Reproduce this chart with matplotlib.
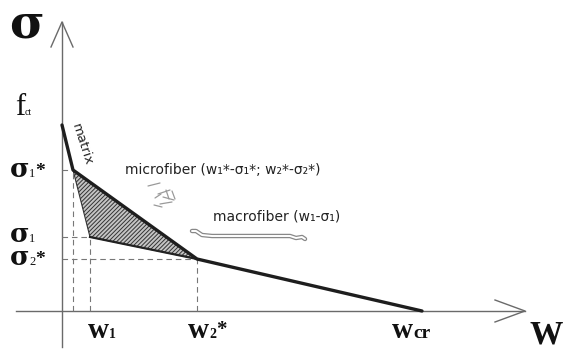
import matplotlib
matplotlib.use("Agg")
import matplotlib.pyplot as plt
from matplotlib.patches import Polygon

# Crack-opening (w) vs. stress (sigma) softening law, arbitrary units
w_curve = [0, 11, 135, 360]          # fct -> (w1*, s1*) -> (w2*, s2*) -> wcr
s_curve = [186, 141, 52, 0]
w1_star, s1_star = 11, 141
w2_star, s2_star = 135, 52
w1, s1 = 28, 74
wcr = 360

plt.rcParams["hatch.linewidth"] = 0.7
plt.rcParams["hatch.color"] = "#4a4a4a"

fig = plt.figure(figsize=(5.66, 3.55), dpi=100)
ax = fig.add_axes([0, 0, 1, 1])
ax.set_xlim(-62, 504)
ax.set_ylim(-44, 311)
ax.axis("off")

axis_col = "#6a6a6a"
# axes with open arrowheads
ax.plot([0, 0], [-36, 289], color=axis_col, lw=1.0)
ax.plot([-11, 0, 11], [264, 289, 264], color=axis_col, lw=1.0)
ax.plot([-46, 463], [0, 0], color=axis_col, lw=1.0)
ax.plot([433, 463, 433], [11, 0, -11], color=axis_col, lw=1.0)

# dashed reference lines
dash = dict(color="#777777", lw=0.8, ls=(0, (5, 3.5)))
for wx, sy in [(w1_star, s1_star), (w1, s1), (w2_star, s2_star)]:
    ax.plot([0, wx], [sy, sy], **dash)
    ax.plot([wx, wx], [0, sy], **dash)

# hatched area between micro- and macro-fiber branches
poly = Polygon([(w1_star, s1_star), (w1, s1), (w2_star, s2_star)], closed=True,
               facecolor="#c4c4c4", edgecolor="#333333", hatch="////////", lw=0.8)
ax.add_patch(poly)
ax.plot([w1, w2_star], [s1, s2_star], color="#222222", lw=1.6)

# main softening curve
ax.plot(w_curve, s_curve, color="#1e1e1e", lw=2.4, solid_capstyle="round",
        solid_joinstyle="round")

greek_b = dict(family="DejaVu Serif", weight="bold", color="#111111")
serif_b = dict(family="Liberation Serif", weight="bold", color="#111111")
serif = dict(family="Liberation Serif", color="#111111")

ax.text(-53, 274, "σ", fontsize=34, ha="left", va="baseline", **greek_b)
ax.text(-47, 196, "f", fontsize=22, ha="left", va="baseline", **serif)
ax.text(-37, 196, "ct", fontsize=7, ha="left", va="baseline", **serif)

def sig_label(y, sub, star):
    ax.text(-52, y, "σ", fontsize=19, ha="left", va="baseline", **greek_b)
    ax.text(-33, y, sub, fontsize=9, ha="left", va="baseline", **serif)
    if star:
        ax.text(-27, y + 1, "*", fontsize=14, ha="left", va="baseline", **serif_b)

sig_label(134, "1", True)
sig_label(69, "1", False)
sig_label(46, "2", True)

def w_label(x, sub, star, subsize=10):
    ax.text(x, -27, "w", fontsize=21, ha="left", va="baseline", **serif_b)
    ax.text(x + 21, -27, sub, fontsize=subsize, ha="left", va="baseline", **serif_b)
    if star:
        ax.text(x + 28, -24, "*", fontsize=15, ha="left", va="baseline", **serif_b)

w_label(26, "1", False)
w_label(126, "2", True)
w_label(330, "cr", False, subsize=14)
ax.text(468, -33, "W", fontsize=24, ha="left", va="baseline", **serif_b)

sans = dict(family="DejaVu Sans", color="#222222")
ax.text(20, 166, "matrix", fontsize=9.5, rotation=-72, ha="center", va="center",
        rotation_mode="anchor", **sans)
ax.text(63, 137, "microfiber (w₁*-σ₁*; w₂*-σ₂*)", fontsize=10, ha="left",
        va="baseline", **sans)
ax.text(151, 91, "macrofiber (w₁-σ₁)", fontsize=10, ha="left", va="baseline", **sans)

# sketch of short microfibers
fib = dict(color="#9a9a9a", lw=0.9, solid_capstyle="round")
for seg in [([86, 98], [125, 128]), ([96, 108], [117, 121]), ([93, 99], [113, 117]),
            ([104, 107], [121, 112]), ([110, 113], [120, 112]), ([101, 112], [114, 111]),
            ([98, 110], [107, 109]), ([92, 100], [106, 104])]:
    ax.plot(seg[0], seg[1], **fib)

# sketch of a hooked-end macrofiber (outlined)
mx = [130, 134, 140, 150, 228, 234, 240, 243]
my = [80, 80, 76, 75, 75, 73, 74, 72]
ax.plot(mx, my, color="#888888", lw=3.2, solid_capstyle="round", solid_joinstyle="round")
ax.plot(mx, my, color="white", lw=1.4, solid_capstyle="round", solid_joinstyle="round")

fig.savefig("out.png", dpi=100)
